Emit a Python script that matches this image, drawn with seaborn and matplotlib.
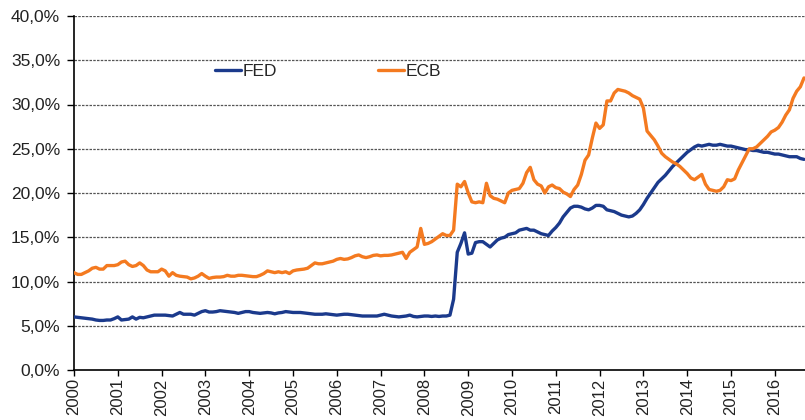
import numpy as np
import pandas as pd
import matplotlib
matplotlib.use("Agg")
import matplotlib.pyplot as plt
import seaborn as sns

# monthly values in %, Jan 2000 .. Sep 2016
fed = [
    6.0, 5.95, 5.9, 5.85, 5.8, 5.75, 5.65, 5.6, 5.6, 5.65, 5.65, 5.8,        # 2000
    6.0, 5.65, 5.7, 5.75, 6.0, 5.75, 5.95, 5.9, 6.0, 6.1, 6.2, 6.2,          # 2001
    6.2, 6.2, 6.15, 6.1, 6.3, 6.5, 6.3, 6.3, 6.3, 6.2, 6.4, 6.6,             # 2002
    6.7, 6.55, 6.55, 6.6, 6.7, 6.65, 6.6, 6.55, 6.5, 6.4, 6.5, 6.6,          # 2003
    6.6, 6.5, 6.45, 6.4, 6.45, 6.5, 6.45, 6.35, 6.45, 6.5, 6.6, 6.55,        # 2004
    6.5, 6.5, 6.5, 6.45, 6.4, 6.35, 6.3, 6.3, 6.3, 6.35, 6.3, 6.25,          # 2005
    6.2, 6.25, 6.3, 6.3, 6.25, 6.2, 6.15, 6.1, 6.1, 6.1, 6.1, 6.1,           # 2006
    6.2, 6.3, 6.2, 6.1, 6.05, 6.0, 6.05, 6.1, 6.2, 6.05, 6.0, 6.05,          # 2007
    6.1, 6.1, 6.05, 6.1, 6.05, 6.1, 6.1, 6.2, 8.0, 13.3, 14.3, 15.5,         # 2008
    13.1, 13.2, 14.4, 14.5, 14.5, 14.2, 13.9, 14.3, 14.7, 14.9, 15.0, 15.3,  # 2009
    15.4, 15.5, 15.8, 15.9, 16.0, 15.8, 15.8, 15.6, 15.4, 15.3, 15.2, 15.7,  # 2010
    16.1, 16.6, 17.3, 17.8, 18.3, 18.5, 18.5, 18.4, 18.2, 18.1, 18.3, 18.6,  # 2011
    18.6, 18.5, 18.1, 18.0, 17.9, 17.7, 17.5, 17.4, 17.3, 17.4, 17.7, 18.1,  # 2012
    18.7, 19.4, 20.0, 20.6, 21.2, 21.6, 22.0, 22.5, 23.0, 23.4, 23.8, 24.2,  # 2013
    24.6, 24.9, 25.2, 25.4, 25.3, 25.4, 25.5, 25.4, 25.4, 25.5, 25.4, 25.3,  # 2014
    25.3, 25.2, 25.1, 25.0, 24.9, 24.9, 24.8, 24.8, 24.7, 24.6, 24.6, 24.5,  # 2015
    24.4, 24.4, 24.3, 24.2, 24.1, 24.1, 24.1, 23.9, 23.8,                    # 2016
]
ecb = [
    11.0, 10.8, 10.8, 11.0, 11.2, 11.5, 11.6, 11.4, 11.4, 11.8, 11.8, 11.8,  # 2000
    11.9, 12.2, 12.3, 11.9, 11.7, 11.8, 12.1, 11.8, 11.3, 11.1, 11.1, 11.1,  # 2001
    11.4, 11.2, 10.6, 11.0, 10.7, 10.6, 10.55, 10.5, 10.3, 10.4, 10.6, 10.9, # 2002
    10.6, 10.35, 10.45, 10.5, 10.5, 10.55, 10.7, 10.6, 10.6, 10.7, 10.7, 10.65,  # 2003
    10.6, 10.55, 10.55, 10.7, 10.9, 11.2, 11.1, 11.0, 11.1, 11.0, 11.1, 10.9,    # 2004
    11.2, 11.3, 11.35, 11.4, 11.5, 11.8, 12.1, 12.0, 12.0, 12.1, 12.2, 12.3,     # 2005
    12.5, 12.6, 12.5, 12.55, 12.7, 12.9, 13.0, 12.8, 12.7, 12.8, 12.95, 13.0,    # 2006
    12.9, 12.95, 12.95, 13.0, 13.1, 13.2, 13.3, 12.6, 13.3, 13.6, 13.9, 16.0,    # 2007
    14.2, 14.3, 14.5, 14.8, 15.1, 15.4, 15.2, 15.2, 15.8, 21.0, 20.7, 21.3,      # 2008
    20.0, 19.0, 18.9, 19.0, 18.9, 21.1, 19.7, 19.4, 19.3, 19.1, 18.9, 20.0,      # 2009
    20.3, 20.4, 20.5, 21.1, 22.3, 22.9, 21.5, 21.0, 20.8, 20.0, 20.7, 20.9,      # 2010
    20.6, 20.5, 20.1, 19.9, 19.6, 20.4, 20.9, 22.1, 23.7, 24.3, 26.2, 27.9,      # 2011
    27.3, 27.7, 30.4, 30.4, 31.3, 31.7, 31.6, 31.5, 31.3, 31.0, 30.8, 30.6,      # 2012
    29.6, 27.0, 26.5, 26.0, 25.3, 24.5, 24.1, 23.8, 23.5, 23.3, 23.0, 22.6,      # 2013
    22.2, 21.7, 21.5, 21.8, 22.1, 21.0, 20.4, 20.3, 20.2, 20.3, 20.7, 21.5,      # 2014
    21.4, 21.6, 22.6, 23.4, 24.2, 25.0, 25.0, 25.2, 25.6, 26.0, 26.4, 26.9,      # 2015
    27.1, 27.4, 28.0, 28.8, 29.4, 30.7, 31.5, 32.0, 33.0,                        # 2016
]
years = list(range(2000, 2017))
yticks = [0, 5, 10, 15, 20, 25, 30, 35, 40]

t = 2000 + np.arange(len(fed)) / 12
df = pd.DataFrame({
    "t": np.concatenate([t, t]),
    "val": fed + ecb,
    "bank": ["FED"] * len(fed) + ["ECB"] * len(ecb),
})

sns.set_style("white")
plt.rcParams["font.family"] = ["Liberation Sans", "DejaVu Sans"]

fig = plt.figure(figsize=(8.05, 4.2), dpi=100)
ax = fig.add_axes([74 / 805, 50 / 420, 731 / 805, 354 / 420])

sns.lineplot(data=df, x="t", y="val", hue="bank",
             palette={"FED": "#1b3a8c", "ECB": "#f47a20"},
             linewidth=2.4, ax=ax, zorder=3)

ax.set_xlim(2000, 2000 + 731 / 43.8)
ax.set_ylim(0, 40)
ax.set_yticks(yticks)
ax.set_yticklabels([f"{v:.1f}%".replace(".", ",") for v in yticks], fontsize=12.5, color="#222222")
ax.set_xticks(years)
ax.set_xticklabels([str(y) for y in years], rotation=90, fontsize=12, color="#222222")
ax.set_xlabel("")
ax.set_ylabel("")

for v in yticks[1:]:
    ax.axhline(v, color="#555555", linewidth=0.9, linestyle=(0, (2, 1)), zorder=1)

sns.despine(ax=ax, top=True, right=True)
for s in ["left", "bottom"]:
    ax.spines[s].set_color("black")
    ax.spines[s].set_linewidth(1.2)
ax.tick_params(axis="y", which="major", left=True, length=5, width=1, pad=5, color="black")
ax.tick_params(axis="x", which="major", bottom=True, length=4, width=1, pad=2, color="black")

ax.legend(loc="center left", bbox_to_anchor=((215 - 74) / 731, (370 - 71) / 354),
          ncol=2, frameon=False, fontsize=12.5, handlelength=1.5, handletextpad=0.1,
          columnspacing=5.8, borderpad=0, borderaxespad=0)

fig.savefig("out.png", dpi=100)
